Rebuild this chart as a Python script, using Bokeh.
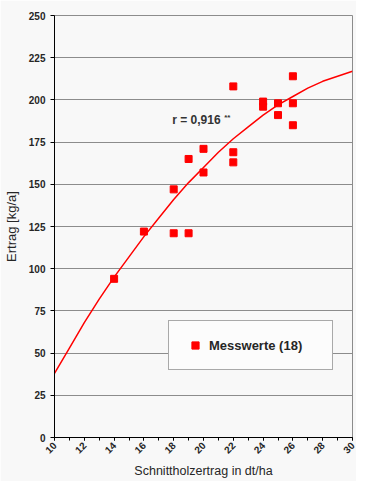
from math import pi
from bokeh.plotting import figure
from bokeh.models import FixedTicker, Legend, LegendItem, Label, Range1d
from bokeh.embed import file_html
from bokeh.resources import INLINE

# ---- data ----
x_ticks = [10, 12, 14, 16, 18, 20, 22, 24, 26, 28, 30]
x_minor = list(range(10, 31))
y_ticks = [0, 25, 50, 75, 100, 125, 150, 175, 200, 225, 250]

holz = [14, 16, 18, 18, 19, 19, 20, 20, 22, 22, 22, 24, 24, 25, 25, 26, 26, 26]
ertrag = [94, 122, 147, 121, 165, 121, 171, 157, 208, 169, 163, 199, 196, 198, 191, 214, 198, 185]

kurve_x = [10, 11, 12, 13, 14, 15, 16, 17, 18, 19, 20, 21, 22, 23, 24, 25, 26, 27, 28, 29, 30]
kurve_y = [38, 53, 68, 82, 95, 107, 119, 130, 141, 151, 160, 169, 177, 184, 191, 197, 202, 207, 211, 214, 217]

r_text = "r = 0,916"
r_stars = "**"
legend_label = "Messwerte (18)"
x_title = "Schnittholzertrag in dt/ha"
y_title = "Ertrag [kg/a]"

FONT = "Liberation Sans"
TXT = "#262626"
BG = "#f8f8f8"
GRID = "#8c8c8c"
RED = "#ff0000"

p = figure(width=356, height=481, output_backend="svg", toolbar_location=None,
           x_range=Range1d(10, 30), y_range=Range1d(0, 250),
           min_border_left=48, min_border_right=4, min_border_top=15, min_border_bottom=40,
           background_fill_color=BG, border_fill_color=BG,
           outline_line_color=GRID, outline_line_width=1)

p.line(kurve_x, kurve_y, color=RED, line_width=1.5)
pts = p.scatter(holz, ertrag, marker="square", size=7, color=RED)

# grid
p.xgrid.grid_line_color = None
p.ygrid.ticker = FixedTicker(ticks=y_ticks)
p.ygrid.grid_line_color = GRID
p.ygrid.grid_line_width = 1

# x axis
xa = p.xaxis[0]
xa.ticker = FixedTicker(ticks=x_ticks, minor_ticks=x_minor)
xa.major_label_orientation = pi / 4
xa.major_tick_out = 3
xa.major_tick_in = 0
xa.minor_tick_out = 3
xa.minor_tick_in = 0
xa.axis_line_color = "black"
xa.major_tick_line_color = "black"
xa.minor_tick_line_color = "black"
xa.major_label_text_font = FONT
xa.major_label_text_font_style = "bold"
xa.major_label_text_font_size = "10px"
xa.major_label_text_color = TXT
xa.major_label_standoff = 3
xa.axis_label = x_title
xa.axis_label_text_font = FONT
xa.axis_label_text_font_style = "normal"
xa.axis_label_text_font_size = "12.5px"
xa.axis_label_text_color = TXT
xa.axis_label_standoff = 4

# y axis
ya = p.yaxis[0]
ya.ticker = FixedTicker(ticks=y_ticks)
ya.major_tick_out = 4
ya.major_tick_in = 0
ya.minor_tick_line_color = None
ya.axis_line_color = "black"
ya.major_tick_line_color = "black"
ya.major_label_text_font = FONT
ya.major_label_text_font_style = "bold"
ya.major_label_text_font_size = "10px"
ya.major_label_text_color = TXT
ya.major_label_standoff = 5
ya.axis_label = y_title
ya.axis_label_text_font = FONT
ya.axis_label_text_font_style = "normal"
ya.axis_label_text_font_size = "13px"
ya.axis_label_text_color = TXT
ya.axis_label_standoff = 7

# correlation label
p.add_layout(Label(x=17.9, y=188, text=r_text, text_font=FONT, text_font_style="bold",
                   text_font_size="12px", text_color="#333333", text_baseline="middle"))
p.add_layout(Label(x=17.9, y=188, x_offset=52, y_offset=3, text=r_stars, text_font=FONT,
                   text_font_style="bold", text_font_size="8px", text_color="#333333",
                   text_baseline="middle"))

# legend
legend = Legend(items=[LegendItem(label=legend_label, renderers=[pts])],
                location=(114, 67), margin=0, padding=15,
                glyph_width=22, glyph_height=18, label_height=18, label_width=108,
                label_standoff=3,
                label_text_font=FONT, label_text_font_style="bold",
                label_text_font_size="13px", label_text_color=TXT,
                border_line_color="#555555", border_line_width=1,
                background_fill_color="#fcfcfc", background_fill_alpha=1.0)
p.add_layout(legend, "center")

open("out.html", "w").write(file_html(p, INLINE))
